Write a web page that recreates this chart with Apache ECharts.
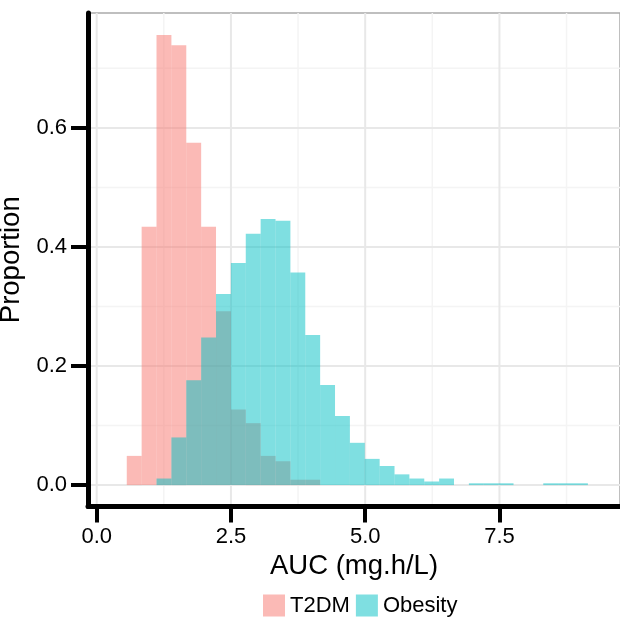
<!DOCTYPE html>
<html>
<head>
<meta charset="utf-8">
<script src="https://cdn.jsdelivr.net/npm/echarts@6/dist/echarts.min.js"></script>
<style>
  html, body { margin: 0; padding: 0; background: #fff; }
  #chart { width: 620px; height: 619px; }
</style>
</head>
<body>
<div id="chart"></div>
<script>
// histogram bin edges (mg.h/L)
var binEdges = [0.560, 0.837, 1.114, 1.391, 1.668, 1.945, 2.222, 2.499, 2.776, 3.053,
  3.330, 3.607, 3.884, 4.161, 4.438, 4.715, 4.992, 5.269, 5.546, 5.823,
  6.100, 6.377, 6.654, 6.931, 7.208, 7.485, 7.762, 8.039, 8.316, 8.593,
  8.870, 9.147];

var t2dm = [0.049, 0.434, 0.756, 0.739, 0.575, 0.434, 0.292, 0.127, 0.104, 0.049,
  0.040, 0.009, 0.009, 0, 0, 0, 0, 0, 0, 0,
  0, 0, 0, 0, 0, 0, 0, 0, 0, 0, 0];

var obesity = [0, 0, 0.011, 0.080, 0.176, 0.248, 0.321, 0.373, 0.422, 0.447,
  0.444, 0.357, 0.252, 0.168, 0.116, 0.071, 0.044, 0.032, 0.018, 0.011,
  0.006, 0.011, 0, 0.003, 0.003, 0.003, 0, 0, 0.003, 0.003, 0.003];

var xTicks = [0, 2.5, 5, 7.5];
var xMinor = [1.25, 3.75, 6.25, 8.75];
var yTicks = [0, 0.2, 0.4, 0.6];
var yMinor = [0.1, 0.3, 0.5, 0.7];

var font = "'Liberation Sans', Arial, sans-serif";

function toBars(vals) {
  return vals.map(function (v, i) {
    return [binEdges[i], binEdges[i + 1], v];
  });
}

function renderBar(params, api) {
  var top = api.coord([api.value(0), api.value(2)]);
  var bot = api.coord([api.value(1), 0]);
  return {
    type: "rect",
    shape: { x: top[0], y: top[1], width: bot[0] - top[0], height: bot[1] - top[1] },
    style: api.style()
  };
}

function gridLines(vals, vertical, color, width) {
  return {
    type: "custom",
    silent: true,
    z: 0,
    data: vals.map(function (v) { return vertical ? [v, 0] : [0, v]; }),
    encode: vertical ? { x: 0 } : { y: 1 },
    renderItem: function (params, api) {
      var cs = params.coordSys;
      var p = api.coord([api.value(0), api.value(1)]);
      var shape = vertical
        ? { x1: p[0], y1: cs.y, x2: p[0], y2: cs.y + cs.height }
        : { x1: cs.x, y1: p[1], x2: cs.x + cs.width, y2: p[1] };
      return { type: "line", shape: shape, style: { stroke: color, lineWidth: width } };
    }
  };
}

var chart = echarts.init(document.getElementById("chart"));
chart.setOption({
  animation: false,
  textStyle: { fontFamily: font },
  grid: {
    left: 88, right: 0, top: 13, bottom: 112.5,
    outerBoundsMode: "none",
    containLabel: false,
    show: true, borderColor: "#aaaaaa", borderWidth: 1.5, backgroundColor: "#fff"
  },
  legend: {
    data: ["T2DM", "Obesity"],
    left: 258, top: 589.5,
    icon: "rect",
    itemWidth: 22, itemHeight: 22, itemGap: 6,
    textStyle: { fontSize: 22, color: "#000", fontFamily: font }
  },
  xAxis: {
    type: "value",
    min: -0.162, max: 9.745,
    name: "AUC (mg.h/L)",
    nameLocation: "middle",
    nameGap: 40,
    nameTextStyle: { fontSize: 27.5, color: "#000", fontFamily: font },
    axisLine: { show: true, onZero: false, lineStyle: { color: "#000", width: 5 } },
    axisTick: { show: true, length: 16, customValues: xTicks, lineStyle: { color: "#000", width: 4 } },
    axisLabel: {
      customValues: xTicks, margin: 19, fontSize: 22, color: "#000", fontFamily: font,
      formatter: function (v) { return v.toFixed(1); }
    },
    splitLine: { show: false }
  },
  yAxis: {
    type: "value",
    min: -0.036, max: 0.793,
    name: "Proportion",
    nameLocation: "middle",
    nameGap: 49,
    nameTextStyle: { fontSize: 27.5, color: "#000", fontFamily: font },
    axisLine: { show: true, onZero: false, lineStyle: { color: "#000", width: 5 } },
    axisTick: { show: true, length: 17, customValues: yTicks, lineStyle: { color: "#000", width: 4 } },
    axisLabel: {
      customValues: yTicks, margin: 21, fontSize: 22, color: "#000", fontFamily: font,
      formatter: function (v) { return v.toFixed(1); }
    },
    splitLine: { show: false }
  },
  series: [
    gridLines(xMinor, true, "#f4f4f4", 1.5),
    gridLines(yMinor, false, "#f4f4f4", 1.5),
    gridLines(xTicks, true, "#e8e8e8", 2),
    gridLines(yTicks, false, "#e8e8e8", 2),
    {
      name: "T2DM",
      type: "custom",
      z: 2,
      renderItem: renderBar,
      encode: { x: [0, 1], y: 2 },
      itemStyle: { color: "rgba(248,118,109,0.5)" },
      data: toBars(t2dm)
    },
    {
      name: "Obesity",
      type: "custom",
      z: 3,
      renderItem: renderBar,
      encode: { x: [0, 1], y: 2 },
      itemStyle: { color: "rgba(0,191,196,0.5)" },
      data: toBars(obesity)
    }
  ]
});
</script>
</body>
</html>
